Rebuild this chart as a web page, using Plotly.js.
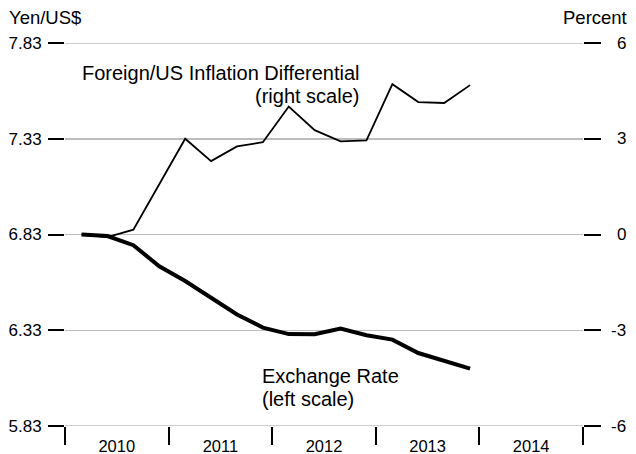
<!DOCTYPE html>
<html>
<head>
<meta charset="utf-8">
<script src="https://cdn.plot.ly/plotly-3.0.1.min.js"></script>
<style>html,body{margin:0;padding:0;background:#fff;}#chart{width:636px;height:454px;}</style>
</head>
<body>
<div id="chart"></div>
<script>
// Quarterly observation positions (decimal years)
const quarters = [2010.16, 2010.41, 2010.66, 2010.91, 2011.16, 2011.41, 2011.66, 2011.91,
                  2012.16, 2012.41, 2012.66, 2012.91, 2013.16, 2013.41, 2013.66, 2013.91];
// Exchange rate (log yen per US$, left scale)
const exchangeRate = [6.830, 6.822, 6.774, 6.664, 6.587, 6.500, 6.412, 6.344,
                      6.310, 6.309, 6.339, 6.304, 6.281, 6.211, 6.173, 6.130];
// Foreign/US inflation differential (percent, right scale)
const inflationDiff = [0.00, -0.08, 0.15, 1.57, 3.00, 2.30, 2.76, 2.89,
                       4.01, 3.27, 2.92, 2.95, 4.71, 4.15, 4.12, 4.68];
const yearBounds = [2010, 2011, 2012, 2013, 2014, 2015];
const yearLabelPos = [2010.5, 2011.5, 2012.5, 2013.5, 2014.5];
const yearLabels = ['2010', '2011', '2012', '2013', '2014'];
const leftTicks = [5.83, 6.33, 6.83, 7.33, 7.83];
const leftTickText = ['5.83', '6.33', '6.83', '7.33', '7.83'];
const rightTicks = [-6, -3, 0, 3, 6];
const rightTickText = ['-6', '-3', '0', '3', '6'];

const FONT = 'Liberation Sans, Arial, sans-serif';
const GRID = '#bdbdbd';

const traces = [
  {x: quarters, y: exchangeRate, type: 'scatter', mode: 'lines', yaxis: 'y',
   line: {color: '#000', width: 4}, hoverinfo: 'skip'},
  {x: quarters, y: inflationDiff, type: 'scatter', mode: 'lines', yaxis: 'y2',
   line: {color: '#000', width: 1.8}, hoverinfo: 'skip'}
];

// Right-aligned right-axis labels (placed via the y2 scale)
const rightLabelAnns = rightTicks.map((v, i) => ({
  text: rightTickText[i], xref: 'paper', yref: 'y2', x: (628 - 65) / 518, y: v,
  xanchor: 'right', yanchor: 'middle', showarrow: false, font: {size: 17}
}));

// Edge gridlines (Plotly drops gridlines that sit on the plot edge)
const edgeGrid = [leftTicks[0], leftTicks[leftTicks.length - 1]].map(v => ({
  type: 'line', xref: 'paper', yref: 'y', x0: 0, x1: 1, y0: v, y1: v,
  line: {color: GRID, width: 1.5}, layer: 'below'
}));

const layout = {
  width: 636, height: 454,
  margin: {l: 65, r: 53, t: 43, b: 28},
  paper_bgcolor: '#fff', plot_bgcolor: '#fff',
  showlegend: false,
  font: {family: FONT, size: 16, color: '#000'},
  xaxis: {
    range: [2010, 2015], tickmode: 'array', tickvals: yearLabelPos, ticktext: yearLabels,
    ticks: '', showgrid: false, zeroline: false, showline: false,
    ticklabelstandoff: 8,
    tickfont: {size: 16.5},
    minor: {tickmode: 'array', tickvals: yearBounds, ticks: 'outside', ticklen: 18,
            tickwidth: 2, tickcolor: '#000', showgrid: false}
  },
  yaxis: {
    range: [5.83, 7.83], tickmode: 'array', tickvals: leftTicks, ticktext: leftTickText,
    ticks: 'outside', ticklen: 16, tickwidth: 2, tickcolor: '#000',
    showgrid: true, gridcolor: GRID, gridwidth: 1.5,
    zeroline: false, showline: false, ticklabelstandoff: 3,
    tickfont: {size: 17}
  },
  yaxis2: {
    range: [-6, 6], tickmode: 'array', tickvals: rightTicks,
    overlaying: 'y', side: 'right',
    ticks: 'outside', ticklen: 17, tickwidth: 2, tickcolor: '#000',
    showgrid: false, zeroline: false, showline: false, showticklabels: false
  },
  shapes: edgeGrid,
  annotations: rightLabelAnns.concat([
    {text: 'Yen/US$', xref: 'paper', yref: 'paper', x: (7 - 65) / 518, y: (426 - 17) / 383,
     xanchor: 'left', yanchor: 'middle', showarrow: false, font: {size: 18.5}},
    {text: 'Percent', xref: 'paper', yref: 'paper', x: (629 - 65) / 518, y: (426 - 17) / 383,
     xanchor: 'right', yanchor: 'middle', showarrow: false, font: {size: 18.5}},
    {text: 'Foreign/US Inflation Differential', xref: 'paper', yref: 'paper',
     x: (80 - 65) / 518, y: (426 - 73) / 383, xanchor: 'left', yanchor: 'middle',
     showarrow: false, font: {size: 20}},
    {text: '(right scale)', xref: 'paper', yref: 'paper',
     x: (361 - 65) / 518, y: (426 - 96) / 383, xanchor: 'right', yanchor: 'middle',
     showarrow: false, font: {size: 20}},
    {text: 'Exchange Rate', xref: 'paper', yref: 'paper',
     x: (260 - 65) / 518, y: (426 - 376) / 383, xanchor: 'left', yanchor: 'middle',
     showarrow: false, font: {size: 20}},
    {text: '(left scale)', xref: 'paper', yref: 'paper',
     x: (260 - 65) / 518, y: (426 - 399) / 383, xanchor: 'left', yanchor: 'middle',
     showarrow: false, font: {size: 20}}
  ])
};

Plotly.newPlot('chart', traces, layout, {staticPlot: true, displayModeBar: false});
</script>
</body>
</html>
